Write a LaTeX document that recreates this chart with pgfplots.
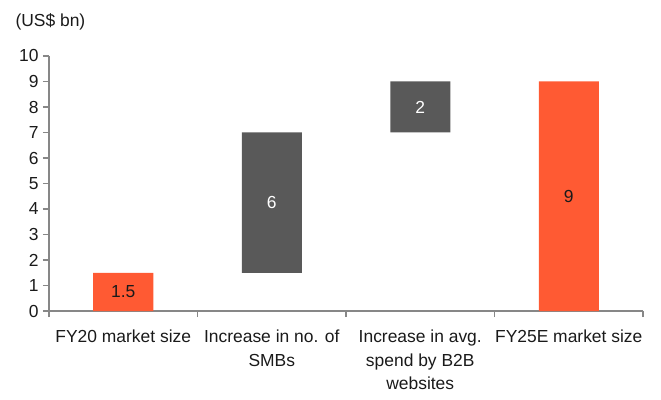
\documentclass[border=0pt]{standalone}
\usepackage{fontspec}
\setmainfont{Liberation Sans}
\usepackage{pgfplots}
\pgfplotsset{compat=1.18}
\definecolor{cOrange}{HTML}{FF5A33}
\definecolor{cGray}{HTML}{595959}
\definecolor{cAxis}{HTML}{878787}
\definecolor{cText}{HTML}{1A1A1A}
\begin{document}
\begin{tikzpicture}[font=\fontsize{17.5}{23.5}\selectfont]
\useasboundingbox (-49bp,-89bp) rectangle (612bp,311bp);
\begin{axis}[
  scale only axis,
  width=594bp, height=255bp,
  xmin=0, xmax=4, ymin=0, ymax=10,
  axis x line=bottom, axis y line=left,
  axis line style={draw=cAxis, line width=1.2pt, -},
  clip=false,
  ybar stacked, bar width=60bp,
  ytick={0,1,...,10},
  xtick={0,1,2,3,4},
  xticklabels={},
  major tick length=6bp,
  tick align=outside,
  tick style={draw=cAxis, line width=1.2pt},
  yticklabel style={font=\fontsize{17.5}{21}\selectfont, text=cText, xshift=-1bp},
  /pgf/number format/assume math mode=true,
]
\addplot[draw=none, fill=none, forget plot] coordinates {(0.5,0) (1.5,1.5) (2.5,7) (3.5,0)};
\addplot[draw=none, fill=cOrange, forget plot] coordinates {(0.5,1.5) (1.5,0) (2.5,0) (3.5,9)};
\addplot[draw=none, fill=cGray, forget plot] coordinates {(0.5,0) (1.5,5.5) (2.5,2) (3.5,0)};
\coordinate (v1) at (axis cs:0.5,0.75);
\coordinate (v2) at (axis cs:1.5,4.25);
\coordinate (v3) at (axis cs:2.5,8);
\coordinate (v4) at (axis cs:3.5,4.5);
\node[text=cText, anchor=north, align=center] at (axis cs:0.5,-0.62) {FY20 market size};
\node[text=cText, anchor=north, align=center] at (axis cs:1.5,-0.62) {Increase in no. of\\SMBs};
\node[text=cText, anchor=north, align=center] at (axis cs:2.5,-0.62) {Increase in avg.\\spend by B2B\\websites};
\node[text=cText, anchor=north, align=center] at (axis cs:3.5,-0.62) {FY25E market size};
\node[text=cText, anchor=west] at (rel axis cs:0,1.132) [xshift=-37bp] {(US\$ bn)};
\end{axis}
\node[text=cText] at (v1) {1.5};
\node[text=white] at (v2) {6};
\node[text=white] at (v3) {2};
\node[text=cText] at (v4) {9};
\end{tikzpicture}
\end{document}
